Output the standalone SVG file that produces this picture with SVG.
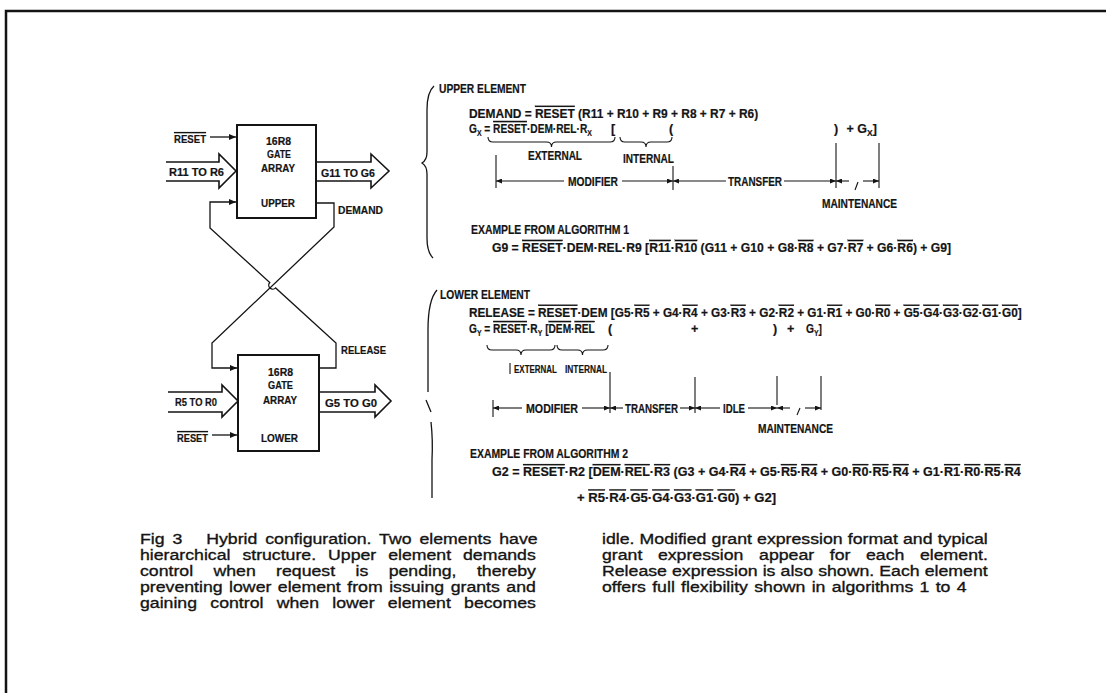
<svg xmlns="http://www.w3.org/2000/svg" width="1111" height="693" viewBox="0 0 1111 693">
<defs>
<marker id="ah" markerWidth="7" markerHeight="6" refX="7" refY="3" orient="auto" markerUnits="userSpaceOnUse"><path d="M0,0 L7,3 L0,6 z" fill="#141414"/></marker>
<marker id="ad" markerWidth="6" markerHeight="5" refX="6" refY="2.5" orient="auto" markerUnits="userSpaceOnUse"><path d="M0,0 L6,2.5 L0,5 z" fill="#141414"/></marker>
</defs>
<style>
.eq{font-family:"Liberation Sans",Arial,sans-serif;font-weight:bold;font-size:12.5px;fill:#141414;stroke:#141414;stroke-width:0.2}
.lb{font-family:"Liberation Sans",Arial,sans-serif;font-weight:bold;font-size:11.5px;fill:#141414;stroke:#141414;stroke-width:0.2}
.sm{font-size:11.6px}
.sb{font-size:8.5px;baseline-shift:-3px}
.ov{text-decoration:overline}
.cap{font-family:"Liberation Sans",Arial,sans-serif;font-size:15.5px;fill:#141414;stroke:#141414;stroke-width:0.35}
.ln{fill:none;stroke:#141414;stroke-width:1.3}
.dm{fill:none;stroke:#141414;stroke-width:1.1}
.box{fill:#fff;stroke:#141414;stroke-width:2}
.fat{fill:#fff;stroke:#141414;stroke-width:1.6;stroke-linejoin:miter}
</style>
<rect width="1111" height="693" fill="#fff"/>
<g id="frame"><path d="M6,693 L6,11 L1106,11" fill="none" stroke="#141414" stroke-width="2.5"/></g>

<g id="connectors">
<path class="ln" d="M319,368 L336,368 L336,343 L275.65,287.9 A4,4 0 0 1 269.75,282.5 L210,228 L210,202 L236,202" marker-end="url(#ah)"/>
<path class="ln" d="M316,203 L334,203 L334,227 L212,343 L212,368 L237,368" marker-end="url(#ah)"/>
<line class="ln" x1="210" y1="137" x2="236" y2="137" marker-end="url(#ah)"/>
<line class="ln" x1="212" y1="435" x2="237" y2="435" marker-end="url(#ah)"/>
<path class="fat" d="M166,162 L219,162 L219,154 L236,171 L219,188 L219,181 L166,181"/>
<path class="fat" d="M316,162 L371,162 L371,154 L389,171 L371,188 L371,181 L316,181"/>
<path class="fat" d="M168,392 L222,392 L222,385 L238,401 L222,417 L222,412 L168,412"/>
<path class="fat" d="M319,392 L375,392 L375,385 L391,401 L375,417 L375,412 L319,412"/>
</g>

<g id="upper-box">
<rect class="box" x="237" y="125" width="79" height="93"/>
<text class="lb" x="266" y="145" textLength="25" lengthAdjust="spacingAndGlyphs">16R8</text>
<text class="lb" x="267" y="158" textLength="24" lengthAdjust="spacingAndGlyphs">GATE</text>
<text class="lb" x="261" y="171.5" textLength="34" lengthAdjust="spacingAndGlyphs">ARRAY</text>
<text class="lb" x="261" y="207" textLength="34" lengthAdjust="spacingAndGlyphs">UPPER</text>
</g>
<g id="lower-box">
<rect class="box" x="238" y="355" width="81" height="96"/>
<text class="lb" x="268" y="376" textLength="25" lengthAdjust="spacingAndGlyphs">16R8</text>
<text class="lb" x="268" y="389" textLength="25" lengthAdjust="spacingAndGlyphs">GATE</text>
<text class="lb" x="263" y="404" textLength="34" lengthAdjust="spacingAndGlyphs">ARRAY</text>
<text class="lb" x="261" y="442" textLength="37" lengthAdjust="spacingAndGlyphs">LOWER</text>
</g>
<g id="left-labels">
<text class="lb ov" x="174" y="143" textLength="32" lengthAdjust="spacingAndGlyphs">RESET</text>
<text class="lb" x="169" y="176" textLength="55" lengthAdjust="spacingAndGlyphs">R11 TO R6</text>
<text class="lb" x="321" y="177" textLength="54" lengthAdjust="spacingAndGlyphs">G11 TO G6</text>
<text class="lb" x="338" y="214" textLength="45" lengthAdjust="spacingAndGlyphs">DEMAND</text>
<text class="lb" x="341" y="354" textLength="45" lengthAdjust="spacingAndGlyphs">RELEASE</text>
<text class="lb" x="175" y="406" textLength="42" lengthAdjust="spacingAndGlyphs">R5 TO R0</text>
<text class="lb" x="325" y="407" textLength="52" lengthAdjust="spacingAndGlyphs">G5 TO G0</text>
<text class="lb ov" x="177" y="442" textLength="31" lengthAdjust="spacingAndGlyphs">RESET</text>
</g>

<g id="brackets">
<path class="ln" d="M434,86 Q427,92 427,110 L427,152 Q427,160 422,163 Q427,166 427,174 L427,238 Q427,252 433,258"/>
<path class="ln" d="M437,290 Q428,300 428,330 L428,392 M426,400 L431,412 M431,422 Q433,440 432,460 L432,498"/>
</g>

<g id="upper-element">
<text class="eq" x="439" y="93" textLength="87" lengthAdjust="spacingAndGlyphs">UPPER ELEMENT</text>
<text class="eq" transform="translate(469,118) scale(0.955,1)">DEMAND = <tspan class="ov">RESET</tspan> (R11 + R10 + R9 + R8 + R7 + R6)</text>
<text class="eq" transform="translate(469,133) scale(0.813,1)">G<tspan class="sb">X</tspan> = <tspan class="ov">RESET</tspan>·DEM·REL·R<tspan class="sb">X</tspan></text>
<text class="eq" x="611" y="133">[</text>
<text class="eq" x="669" y="133">(</text>
<text class="eq" x="834" y="133">)</text>
<text class="eq" x="846.5" y="133">+ G<tspan class="sb">X</tspan>]</text>
<path class="dm" d="M488,137 Q488,142 493,142 L546.5,142 Q551.5,142 551.5,147 Q551.5,142 556.5,142 L610,142 Q615,142 615,137"/>
<path class="dm" d="M620,137 Q620,142 625,142 L641,142 Q646,142 646,147 Q646,142 651,142 L667,142 Q672,142 672,137"/>
<text class="eq" x="528" y="160" textLength="54" lengthAdjust="spacingAndGlyphs">EXTERNAL</text>
<text class="eq" x="623" y="163" textLength="51" lengthAdjust="spacingAndGlyphs">INTERNAL</text>
<line class="dm" x1="496" y1="155" x2="496" y2="188"/>
<line class="dm" x1="673" y1="166" x2="673" y2="190"/>
<line class="dm" x1="836" y1="143" x2="836" y2="188"/>
<line class="dm" x1="879" y1="143" x2="879" y2="188"/>
<line class="dm" x1="564" y1="181" x2="496" y2="181" marker-end="url(#ad)"/>
<line class="dm" x1="622" y1="181" x2="673" y2="181" marker-end="url(#ad)"/>
<line class="dm" x1="726" y1="181" x2="673" y2="181" marker-end="url(#ad)"/>
<line class="dm" x1="784" y1="181" x2="836" y2="181" marker-end="url(#ad)"/>
<line class="dm" x1="849" y1="181" x2="836" y2="181" marker-end="url(#ad)"/>
<line class="dm" x1="858" y1="182" x2="855" y2="190"/>
<line class="dm" x1="863" y1="181" x2="879" y2="181" marker-end="url(#ad)"/>
<text class="eq" x="568" y="185.5" textLength="50" lengthAdjust="spacingAndGlyphs">MODIFIER</text>
<text class="eq" x="728" y="185.5" textLength="54" lengthAdjust="spacingAndGlyphs">TRANSFER</text>
<text class="eq" x="822" y="208" textLength="75" lengthAdjust="spacingAndGlyphs">MAINTENANCE</text>
<text class="eq" x="471" y="234" textLength="158" lengthAdjust="spacingAndGlyphs">EXAMPLE FROM ALGORITHM 1</text>
<text class="eq" transform="translate(492,252) scale(0.974,1)">G9 = <tspan class="ov">RESET</tspan>·DEM·REL·R9 [<tspan class="ov">R11</tspan>·<tspan class="ov">R10</tspan> (G11 + G10 + G8·<tspan class="ov">R8</tspan> + G7·<tspan class="ov">R7</tspan> + G6·<tspan class="ov">R6</tspan>) + G9]</text>
</g>

<g id="lower-element">
<text class="eq" x="440" y="299" textLength="90" lengthAdjust="spacingAndGlyphs">LOWER ELEMENT</text>
<text class="eq" transform="translate(469,317) scale(0.944,1)">RELEASE = <tspan class="ov">RESET</tspan>·DEM [G5·<tspan class="ov">R5</tspan> + G4·<tspan class="ov">R4</tspan> + G3·<tspan class="ov">R3</tspan> + G2·<tspan class="ov">R2</tspan> + G1·<tspan class="ov">R1</tspan> + G0·<tspan class="ov">R0</tspan> + <tspan class="ov">G5</tspan>·<tspan class="ov">G4</tspan>·<tspan class="ov">G3</tspan>·<tspan class="ov">G2</tspan>·<tspan class="ov">G1</tspan>·<tspan class="ov">G0</tspan>]</text>
<text class="eq" transform="translate(469,333) scale(0.814,1)">G<tspan class="sb">Y</tspan> = <tspan class="ov">RESET</tspan>·R<tspan class="sb">Y</tspan> [<tspan class="ov">DEM</tspan>·<tspan class="ov">REL</tspan></text>
<text class="eq" x="608" y="333">(</text>
<text class="eq" x="691" y="333">+</text>
<text class="eq" x="773" y="333">)</text>
<text class="eq" x="787" y="333">+</text>
<text class="eq" transform="translate(806,333) scale(0.82,1)">G<tspan class="sb">Y</tspan>]</text>
<path class="dm" d="M487,345 Q487,350 492,350 L516,350 Q521,350 521,355 Q521,350 526,350 L550,350 Q555,350 555,345"/>
<path class="dm" d="M557,345 Q557,350 562,350 L577.5,350 Q582.5,350 582.5,355 Q582.5,350 587.5,350 L603,350 Q608,350 608,345"/>
<line class="dm" x1="510" y1="363" x2="510" y2="374"/>
<text class="eq sm" transform="translate(514,373) scale(0.688,1)">EXTERNAL</text>
<text class="eq sm" transform="translate(565,373) scale(0.717,1)">INTERNAL</text>
<line class="dm" x1="493" y1="400" x2="493" y2="417"/>
<line class="dm" x1="610" y1="372" x2="610" y2="413"/>
<line class="dm" x1="695" y1="377" x2="695" y2="413"/>
<line class="dm" x1="777" y1="376" x2="777" y2="405"/>
<line class="dm" x1="821" y1="376" x2="821" y2="410"/>
<line class="dm" x1="522" y1="408" x2="493" y2="408" marker-end="url(#ad)"/>
<line class="dm" x1="582" y1="408" x2="610" y2="408" marker-end="url(#ad)"/>
<line class="dm" x1="623" y1="408" x2="610" y2="408" marker-end="url(#ad)"/>
<line class="dm" x1="680" y1="408" x2="695" y2="408" marker-end="url(#ad)"/>
<line class="dm" x1="720" y1="408" x2="695" y2="408" marker-end="url(#ad)"/>
<line class="dm" x1="748" y1="408" x2="777" y2="408" marker-end="url(#ad)"/>
<line class="dm" x1="790" y1="408" x2="777" y2="408" marker-end="url(#ad)"/>
<line class="dm" x1="800" y1="408" x2="797" y2="415"/>
<line class="dm" x1="805" y1="408" x2="821" y2="408" marker-end="url(#ad)"/>
<text class="eq" x="526" y="412.5" textLength="52" lengthAdjust="spacingAndGlyphs">MODIFIER</text>
<text class="eq" x="625" y="412.5" textLength="53" lengthAdjust="spacingAndGlyphs">TRANSFER</text>
<text class="eq" x="723" y="412.5" textLength="22" lengthAdjust="spacingAndGlyphs">IDLE</text>
<text class="eq" x="758" y="433" textLength="75" lengthAdjust="spacingAndGlyphs">MAINTENANCE</text>
<text class="eq" x="470" y="458" textLength="158" lengthAdjust="spacingAndGlyphs">EXAMPLE FROM ALGORITHM 2</text>
<text class="eq" transform="translate(492,476) scale(1.004,1)">G2 = <tspan class="ov">RESET</tspan>·R2 [<tspan class="ov">DEM</tspan>·<tspan class="ov">REL</tspan>·<tspan class="ov">R3</tspan> (G3 + G4·<tspan class="ov">R4</tspan> + G5·<tspan class="ov">R5</tspan>·<tspan class="ov">R4</tspan> + G0·<tspan class="ov">R0</tspan>·<tspan class="ov">R5</tspan>·<tspan class="ov">R4</tspan> + G1·<tspan class="ov">R1</tspan>·<tspan class="ov">R0</tspan>·<tspan class="ov">R5</tspan>·<tspan class="ov">R4</tspan></text>
<text class="eq" transform="translate(577,502) scale(1.046,1)">+ <tspan class="ov">R5</tspan>·<tspan class="ov">R4</tspan>·<tspan class="ov">G5</tspan>·<tspan class="ov">G4</tspan>·<tspan class="ov">G3</tspan>·<tspan class="ov">G1</tspan>·<tspan class="ov">G0</tspan>) + G2]</text>
</g>

<g id="caption" transform="scale(1.142,1)">
<text class="cap" x="122.59" y="544" word-spacing="2.66" xml:space="preserve">Fig 3   Hybrid configuration. Two elements have</text>
<text class="cap" x="122.59" y="560" word-spacing="6.15">hierarchical structure. Upper element demands</text>
<text class="cap" x="122.59" y="576" word-spacing="13.54">control when request is pending, thereby</text>
<text class="cap" x="122.59" y="592" word-spacing="1.38">preventing lower element from issuing grants and</text>
<text class="cap" x="122.59" y="608" word-spacing="7.34">gaining control when lower element becomes</text>
<text class="cap" x="527.15" y="544" word-spacing="0.2">idle. Modified grant expression format and typical</text>
<text class="cap" x="527.15" y="560" word-spacing="9.36">grant expression appear for each element.</text>
<text class="cap" x="527.15" y="576" word-spacing="0.18">Release expression is also shown. Each element</text>
<text class="cap" x="527.15" y="592" word-spacing="1.2">offers full flexibility shown in algorithms 1 to 4</text>
</g>
</svg>
